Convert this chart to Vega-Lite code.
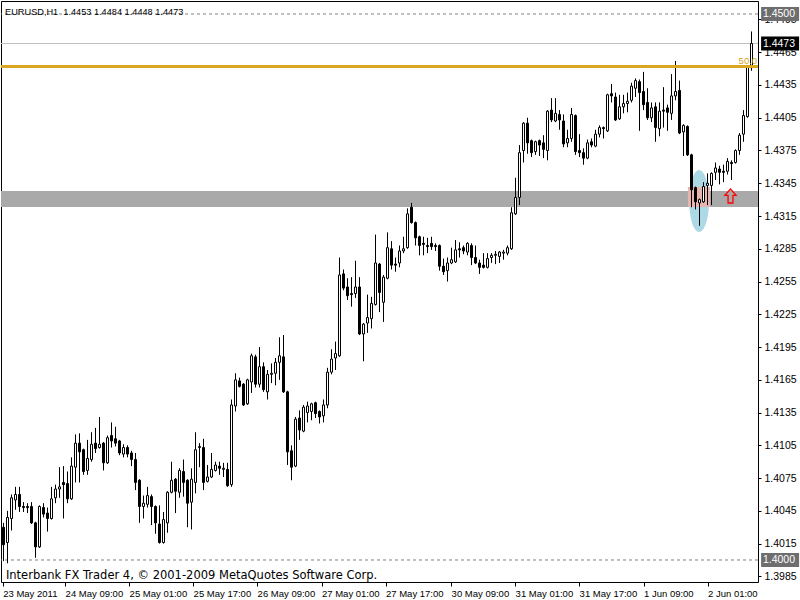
{
"$schema":"https://vega.github.io/schema/vega-lite/v6.json",
"width":757,"height":581,"autosize":"none",
"padding":{"left":1,"top":1,"right":42,"bottom":18},
"background":"white",
"config":{"view":{"stroke":"black","strokeWidth":1},"axis":{"grid":false}},
"resolve":{"axis":{"x":"independent","y":"independent"}},
"datasets":{
"candles":[
{"i":0,"o":1.4030,"h":1.4034,"l":1.3999,"c":1.4014},{"i":1,"o":1.4016,"h":1.4045,"l":1.3997,"c":1.4039},{"i":2,"o":1.4038,"h":1.4060,"l":1.4027,"c":1.4057},{"i":3,"o":1.4055,"h":1.4067,"l":1.4046,"c":1.4060},{"i":4,"o":1.4060,"h":1.4067,"l":1.4044,"c":1.4049},{"i":5,"o":1.4049,"h":1.4053,"l":1.4044,"c":1.4048},{"i":6,"o":1.4049,"h":1.4052,"l":1.4043,"c":1.4048},{"i":7,"o":1.4049,"h":1.4053,"l":1.4033,"c":1.4034},{"i":8,"o":1.4034,"h":1.4035,"l":1.4002,"c":1.4012},{"i":9,"o":1.4012,"h":1.4050,"l":1.4011,"c":1.4049},
{"i":10,"o":1.4048,"h":1.4052,"l":1.4039,"c":1.4042},{"i":11,"o":1.4043,"h":1.4048,"l":1.4026,"c":1.4038},{"i":12,"o":1.4038,"h":1.4067,"l":1.4037,"c":1.4056},{"i":13,"o":1.4057,"h":1.4069,"l":1.4052,"c":1.4065},{"i":14,"o":1.4065,"h":1.4085,"l":1.4057,"c":1.4067},{"i":15,"o":1.4071,"h":1.4086,"l":1.4038,"c":1.4069},{"i":16,"o":1.4070,"h":1.4081,"l":1.4052,"c":1.4056},{"i":17,"o":1.4056,"h":1.4094,"l":1.4055,"c":1.4086},{"i":18,"o":1.4085,"h":1.4115,"l":1.4071,"c":1.4107},{"i":19,"o":1.4107,"h":1.4116,"l":1.4071,"c":1.4099},
{"i":20,"o":1.4101,"h":1.4102,"l":1.4078,"c":1.4081},{"i":21,"o":1.4082,"h":1.4110,"l":1.4078,"c":1.4093},{"i":22,"o":1.4092,"h":1.4117,"l":1.4090,"c":1.4106},{"i":23,"o":1.4107,"h":1.4121,"l":1.4098,"c":1.4102},{"i":24,"o":1.4103,"h":1.4131,"l":1.4102,"c":1.4106},{"i":25,"o":1.4107,"h":1.4108,"l":1.4082,"c":1.4089},{"i":26,"o":1.4089,"h":1.4114,"l":1.4088,"c":1.4112},{"i":27,"o":1.4114,"h":1.4126,"l":1.4103,"c":1.4109},{"i":28,"o":1.4111,"h":1.4122,"l":1.4104,"c":1.4107},{"i":29,"o":1.4109,"h":1.4110,"l":1.4096,"c":1.4098},
{"i":30,"o":1.4097,"h":1.4106,"l":1.4094,"c":1.4103},{"i":31,"o":1.4103,"h":1.4105,"l":1.4094,"c":1.4097},{"i":32,"o":1.4098,"h":1.4100,"l":1.4086,"c":1.4092},{"i":33,"o":1.4092,"h":1.4098,"l":1.4064,"c":1.4071},{"i":34,"o":1.4073,"h":1.4074,"l":1.4034,"c":1.4049},{"i":35,"o":1.4049,"h":1.4059,"l":1.4038,"c":1.4052},{"i":36,"o":1.4051,"h":1.4067,"l":1.4048,"c":1.4059},{"i":37,"o":1.4058,"h":1.4060,"l":1.4032,"c":1.4049},{"i":38,"o":1.4049,"h":1.4050,"l":1.4024,"c":1.4034},{"i":39,"o":1.4033,"h":1.4050,"l":1.4015,"c":1.4016},
{"i":40,"o":1.4016,"h":1.4044,"l":1.4015,"c":1.4037},{"i":41,"o":1.4034,"h":1.4063,"l":1.4025,"c":1.4062},{"i":42,"o":1.4062,"h":1.4090,"l":1.4061,"c":1.4073},{"i":43,"o":1.4074,"h":1.4075,"l":1.4043,"c":1.4063},{"i":44,"o":1.4062,"h":1.4084,"l":1.4057,"c":1.4082},{"i":45,"o":1.4081,"h":1.4092,"l":1.4058,"c":1.4071},{"i":46,"o":1.4073,"h":1.4074,"l":1.4030,"c":1.4052},{"i":47,"o":1.4053,"h":1.4084,"l":1.4028,"c":1.4074},{"i":48,"o":1.4071,"h":1.4117,"l":1.4061,"c":1.4101},{"i":49,"o":1.4103,"h":1.4107,"l":1.4085,"c":1.4104},
{"i":50,"o":1.4103,"h":1.4111,"l":1.4064,"c":1.4071},{"i":51,"o":1.4072,"h":1.4087,"l":1.4071,"c":1.4076},{"i":52,"o":1.4076,"h":1.4098,"l":1.4075,"c":1.4083},{"i":53,"o":1.4082,"h":1.4090,"l":1.4081,"c":1.4087},{"i":54,"o":1.4086,"h":1.4090,"l":1.4078,"c":1.4084},{"i":55,"o":1.4083,"h":1.4089,"l":1.4076,"c":1.4084},{"i":56,"o":1.4083,"h":1.4089,"l":1.4067,"c":1.4068},{"i":57,"o":1.4069,"h":1.4147,"l":1.4067,"c":1.4142},{"i":58,"o":1.4141,"h":1.4171,"l":1.4136,"c":1.4165},{"i":59,"o":1.4164,"h":1.4167,"l":1.4158,"c":1.4159},
{"i":60,"o":1.4161,"h":1.4162,"l":1.4141,"c":1.4142},{"i":61,"o":1.4143,"h":1.4166,"l":1.4142,"c":1.4165},{"i":62,"o":1.4163,"h":1.4189,"l":1.4153,"c":1.4187},{"i":63,"o":1.4186,"h":1.4188,"l":1.4158,"c":1.4161},{"i":64,"o":1.4161,"h":1.4195,"l":1.4158,"c":1.4177},{"i":65,"o":1.4177,"h":1.4181,"l":1.4154,"c":1.4156},{"i":66,"o":1.4154,"h":1.4174,"l":1.4147,"c":1.4170},{"i":67,"o":1.4170,"h":1.4180,"l":1.4162,"c":1.4171},{"i":68,"o":1.4171,"h":1.4185,"l":1.4160,"c":1.4181},{"i":69,"o":1.4181,"h":1.4204,"l":1.4165,"c":1.4187},
{"i":70,"o":1.4186,"h":1.4206,"l":1.4153,"c":1.4154},{"i":71,"o":1.4154,"h":1.4155,"l":1.4087,"c":1.4099},{"i":72,"o":1.4100,"h":1.4105,"l":1.4073,"c":1.4085},{"i":73,"o":1.4086,"h":1.4131,"l":1.4085,"c":1.4129},{"i":74,"o":1.4130,"h":1.4137,"l":1.4110,"c":1.4119},{"i":75,"o":1.4118,"h":1.4142,"l":1.4117,"c":1.4140},{"i":76,"o":1.4135,"h":1.4145,"l":1.4126,"c":1.4141},{"i":77,"o":1.4136,"h":1.4144,"l":1.4128,"c":1.4143},{"i":78,"o":1.4144,"h":1.4145,"l":1.4130,"c":1.4134},{"i":79,"o":1.4136,"h":1.4137,"l":1.4125,"c":1.4131},
{"i":80,"o":1.4132,"h":1.4147,"l":1.4126,"c":1.4142},{"i":81,"o":1.4142,"h":1.4176,"l":1.4139,"c":1.4172},{"i":82,"o":1.4172,"h":1.4193,"l":1.4170,"c":1.4184},{"i":83,"o":1.4185,"h":1.4200,"l":1.4174,"c":1.4189},{"i":84,"o":1.4187,"h":1.4277,"l":1.4186,"c":1.4261},{"i":85,"o":1.4262,"h":1.4266,"l":1.4247,"c":1.4249},{"i":86,"o":1.4250,"h":1.4258,"l":1.4238,"c":1.4242},{"i":87,"o":1.4244,"h":1.4259,"l":1.4232,"c":1.4243},{"i":88,"o":1.4244,"h":1.4274,"l":1.4240,"c":1.4250},{"i":89,"o":1.4250,"h":1.4259,"l":1.4206,"c":1.4207},
{"i":90,"o":1.4207,"h":1.4217,"l":1.4182,"c":1.4216},{"i":91,"o":1.4217,"h":1.4243,"l":1.4208,"c":1.4222},{"i":92,"o":1.4221,"h":1.4241,"l":1.4212,"c":1.4235},{"i":93,"o":1.4234,"h":1.4298,"l":1.4233,"c":1.4272},{"i":94,"o":1.4271,"h":1.4272,"l":1.4227,"c":1.4245},{"i":95,"o":1.4236,"h":1.4261,"l":1.4218,"c":1.4259},{"i":96,"o":1.4258,"h":1.4300,"l":1.4257,"c":1.4286},{"i":97,"o":1.4285,"h":1.4292,"l":1.4266,"c":1.4270},{"i":98,"o":1.4271,"h":1.4277,"l":1.4264,"c":1.4270},{"i":99,"o":1.4272,"h":1.4288,"l":1.4268,"c":1.4283},
{"i":100,"o":1.4283,"h":1.4296,"l":1.4281,"c":1.4285},{"i":101,"o":1.4286,"h":1.4322,"l":1.4285,"c":1.4317},{"i":102,"o":1.4323,"h":1.4327,"l":1.4308,"c":1.4309},{"i":103,"o":1.4309,"h":1.4310,"l":1.4288,"c":1.4295},{"i":104,"o":1.4296,"h":1.4297,"l":1.4279,"c":1.4288},{"i":105,"o":1.4290,"h":1.4296,"l":1.4279,"c":1.4289},{"i":106,"o":1.4288,"h":1.4295,"l":1.4281,"c":1.4287},{"i":107,"o":1.4290,"h":1.4296,"l":1.4284,"c":1.4287},{"i":108,"o":1.4288,"h":1.4290,"l":1.4283,"c":1.4287},{"i":109,"o":1.4288,"h":1.4289,"l":1.4265,"c":1.4269},
{"i":110,"o":1.4269,"h":1.4276,"l":1.4261,"c":1.4264},{"i":111,"o":1.4265,"h":1.4277,"l":1.4255,"c":1.4272},{"i":112,"o":1.4272,"h":1.4286,"l":1.4271,"c":1.4275},{"i":113,"o":1.4273,"h":1.4293,"l":1.4272,"c":1.4284},{"i":114,"o":1.4285,"h":1.4291,"l":1.4277,"c":1.4284},{"i":115,"o":1.4286,"h":1.4288,"l":1.4280,"c":1.4283},{"i":116,"o":1.4282,"h":1.4291,"l":1.4279,"c":1.4290},{"i":117,"o":1.4288,"h":1.4290,"l":1.4270,"c":1.4277},{"i":118,"o":1.4277,"h":1.4288,"l":1.4271,"c":1.4272},{"i":119,"o":1.4272,"h":1.4275,"l":1.4262,"c":1.4268},
{"i":120,"o":1.4270,"h":1.4281,"l":1.4267,"c":1.4268},{"i":121,"o":1.4268,"h":1.4281,"l":1.4267,"c":1.4276},{"i":122,"o":1.4277,"h":1.4281,"l":1.4272,"c":1.4279},{"i":123,"o":1.4279,"h":1.4283,"l":1.4271,"c":1.4280},{"i":124,"o":1.4278,"h":1.4283,"l":1.4272,"c":1.4282},{"i":125,"o":1.4281,"h":1.4284,"l":1.4275,"c":1.4282},{"i":126,"o":1.4281,"h":1.4288,"l":1.4279,"c":1.4286},{"i":127,"o":1.4285,"h":1.4323,"l":1.4284,"c":1.4318},{"i":128,"o":1.4317,"h":1.4350,"l":1.4316,"c":1.4332},{"i":129,"o":1.4332,"h":1.4380,"l":1.4325,"c":1.4373},
{"i":130,"o":1.4375,"h":1.4401,"l":1.4364,"c":1.4400},{"i":131,"o":1.4400,"h":1.4405,"l":1.4372,"c":1.4382},{"i":132,"o":1.4384,"h":1.4385,"l":1.4369,"c":1.4373},{"i":133,"o":1.4374,"h":1.4384,"l":1.4371,"c":1.4383},{"i":134,"o":1.4384,"h":1.4385,"l":1.4370,"c":1.4380},{"i":135,"o":1.4382,"h":1.4389,"l":1.4368,"c":1.4376},{"i":136,"o":1.4375,"h":1.4412,"l":1.4366,"c":1.4411},{"i":137,"o":1.4412,"h":1.4423,"l":1.4401,"c":1.4403},{"i":138,"o":1.4402,"h":1.4423,"l":1.4401,"c":1.4409},{"i":139,"o":1.4408,"h":1.4412,"l":1.4394,"c":1.4403},
{"i":140,"o":1.4402,"h":1.4408,"l":1.4378,"c":1.4381},{"i":141,"o":1.4382,"h":1.4394,"l":1.4378,"c":1.4386},{"i":142,"o":1.4386,"h":1.4414,"l":1.4383,"c":1.4408},{"i":143,"o":1.4407,"h":1.4408,"l":1.4371,"c":1.4374},{"i":144,"o":1.4375,"h":1.4390,"l":1.4369,"c":1.4373},{"i":145,"o":1.4373,"h":1.4377,"l":1.4362,"c":1.4368},{"i":146,"o":1.4368,"h":1.4385,"l":1.4367,"c":1.4382},{"i":147,"o":1.4383,"h":1.4386,"l":1.4378,"c":1.4380},{"i":148,"o":1.4379,"h":1.4394,"l":1.4378,"c":1.4390},{"i":149,"o":1.4390,"h":1.4398,"l":1.4387,"c":1.4396},
{"i":150,"o":1.4396,"h":1.4397,"l":1.4386,"c":1.4395},{"i":151,"o":1.4393,"h":1.4427,"l":1.4392,"c":1.4426},{"i":152,"o":1.4427,"h":1.4436,"l":1.4419,"c":1.4425},{"i":153,"o":1.4424,"h":1.4428,"l":1.4402,"c":1.4403},{"i":154,"o":1.4404,"h":1.4426,"l":1.4403,"c":1.4415},{"i":155,"o":1.4415,"h":1.4426,"l":1.4409,"c":1.4418},{"i":156,"o":1.4418,"h":1.4428,"l":1.4410,"c":1.4420},{"i":157,"o":1.4421,"h":1.4437,"l":1.4419,"c":1.4434},{"i":158,"o":1.4432,"h":1.4441,"l":1.4424,"c":1.4439},{"i":159,"o":1.4438,"h":1.4440,"l":1.4393,"c":1.4428},
{"i":160,"o":1.4429,"h":1.4447,"l":1.4412,"c":1.4417},{"i":161,"o":1.4419,"h":1.4432,"l":1.4403,"c":1.4405},{"i":162,"o":1.4405,"h":1.4419,"l":1.4401,"c":1.4414},{"i":163,"o":1.4415,"h":1.4419,"l":1.4383,"c":1.4396},{"i":164,"o":1.4395,"h":1.4419,"l":1.4388,"c":1.4411},{"i":165,"o":1.4412,"h":1.4433,"l":1.4396,"c":1.4411},{"i":166,"o":1.4414,"h":1.4417,"l":1.4393,"c":1.4410},{"i":167,"o":1.4409,"h":1.4445,"l":1.4403,"c":1.4425},{"i":168,"o":1.4425,"h":1.4457,"l":1.4421,"c":1.4429},{"i":169,"o":1.4430,"h":1.4439,"l":1.4390,"c":1.4391},
{"i":170,"o":1.4392,"h":1.4399,"l":1.4370,"c":1.4398},{"i":171,"o":1.4397,"h":1.4398,"l":1.4370,"c":1.4371},{"i":172,"o":1.4371,"h":1.4372,"l":1.4323,"c":1.4339},{"i":173,"o":1.4341,"h":1.4342,"l":1.4321,"c":1.4328},{"i":174,"o":1.4327,"h":1.4331,"l":1.4306,"c":1.4330},{"i":175,"o":1.4328,"h":1.4346,"l":1.4327,"c":1.4342},{"i":176,"o":1.4343,"h":1.4354,"l":1.4325,"c":1.4345},{"i":177,"o":1.4343,"h":1.4355,"l":1.4325,"c":1.4354},{"i":178,"o":1.4355,"h":1.4364,"l":1.4348,"c":1.4359},{"i":179,"o":1.4358,"h":1.4361,"l":1.4344,"c":1.4355},
{"i":180,"o":1.4356,"h":1.4362,"l":1.4346,"c":1.4355},{"i":181,"o":1.4356,"h":1.4368,"l":1.4353,"c":1.4365},{"i":182,"o":1.4364,"h":1.4366,"l":1.4348,"c":1.4363},{"i":183,"o":1.4364,"h":1.4376,"l":1.4363,"c":1.4375},{"i":184,"o":1.4375,"h":1.4391,"l":1.4371,"c":1.4389},{"i":185,"o":1.4390,"h":1.4412,"l":1.4383,"c":1.4407},{"i":186,"o":1.4406,"h":1.4453,"l":1.4405,"c":1.4451},{"i":187,"o":1.4453,"h":1.4484,"l":1.4448,"c":1.4473}
],
"boxes":[{"price":1.45,"label":"1.4500"},{"price":1.4473,"label":"1.4473"},{"price":1.40,"label":"1.4000"}]
},
"layer":[
{"data":{"values":[{"p1":1.43233,"p2":1.43379,"t1":-0.625,"t2":188.625}]},
 "mark":{"type":"rect","color":"#A9A9A9"},
 "encoding":{"x":{"field":"t1","type":"quantitative","scale":{"domain":[-0.625,188.625],"nice":false,"zero":false,"padding":0},"axis":null},"x2":{"field":"t2"},
  "y":{"field":"p1","type":"quantitative","scale":{"domain":[1.397985,1.45119],"nice":false,"zero":false,"padding":0},"axis":null},"y2":{"field":"p2"}}},
{"data":{"values":[{"t":173.9,"p":1.432875}]},
 "mark":{"type":"point","shape":"M0,-1A0.32,1,0,1,1,0,1A0.32,1,0,1,1,0,-1Z","filled":true,"color":"#ADD8E6","opacity":1,"size":3844,"strokeWidth":0},
 "encoding":{"x":{"field":"t","type":"quantitative","scale":{"domain":[-0.625,188.625],"nice":false,"zero":false,"padding":0},"axis":null},
  "y":{"field":"p","type":"quantitative","scale":{"domain":[1.397985,1.45119],"nice":false,"zero":false,"padding":0},"axis":null}}},
{"data":{"values":[{"t1":171.1,"t2":176.6,"p1":1.43233,"p2":1.43416}]},
 "mark":{"type":"rect","color":"#E8B4B0"},
 "encoding":{"x":{"field":"t1","type":"quantitative","scale":{"domain":[-0.625,188.625],"nice":false,"zero":false,"padding":0},"axis":null},"x2":{"field":"t2"},
  "y":{"field":"p1","type":"quantitative","scale":{"domain":[1.397985,1.45119],"nice":false,"zero":false,"padding":0},"axis":null},"y2":{"field":"p2"}}},
{"data":{"values":[{"p":1.4473}]},
 "mark":{"type":"rule","color":"#C0C0C0","strokeWidth":1},
 "encoding":{"y":{"field":"p","type":"quantitative","scale":{"domain":[1.397985,1.45119],"nice":false,"zero":false,"padding":0},"axis":null}}},
{"data":{"values":[{"p":1.45},{"p":1.40}]},
 "mark":{"type":"rule","color":"#808080","strokeWidth":1,"strokeDash":[3,3]},
 "encoding":{"y":{"field":"p","type":"quantitative","scale":{"domain":[1.397985,1.45119],"nice":false,"zero":false,"padding":0},"axis":null}}},
{"data":{"name":"candles"},
 "mark":{"type":"rule","color":"black","strokeWidth":1},
 "encoding":{
  "x":{"field":"i","type":"quantitative","scale":{"domain":[-0.625,188.625],"nice":false,"zero":false,"padding":0},
   "axis":{"orient":"bottom","title":null,"domain":false,"grid":false,"values":[-0.2,15.4,31.4,47.4,63.4,79.5,95.5,111.9,127.9,143.9,160,176],
    "labelExpr":"['23 May 2011','24 May 09:00','25 May 01:00','25 May 17:00','26 May 09:00','27 May 01:00','27 May 17:00','30 May 09:00','31 May 01:00','31 May 17:00','1 Jun 09:00','2 Jun 01:00'][indexof([-0.2,15.4,31.4,47.4,63.4,79.5,95.5,111.9,127.9,143.9,160,176], datum.value)]",
    "labelAlign":"left","labelFlush":false,"labelOverlap":false,"labelBound":false,"tickSize":4,"tickColor":"black","labelColor":"black","labelFont":"Liberation Sans","labelFontSize":9.5,"labelPadding":2,"labelDx":1}},
  "y":{"field":"l","type":"quantitative","scale":{"domain":[1.397985,1.45119],"nice":false,"zero":false,"padding":0},
   "axis":{"orient":"right","title":null,"domain":false,"grid":false,"values":[1.3985,1.4015,1.4045,1.4075,1.4105,1.4135,1.4165,1.4195,1.4225,1.4255,1.4285,1.4315,1.4345,1.4375,1.4405,1.4435,1.4465,1.4495],
    "format":".4f","labelOverlap":false,"labelFlush":false,"labelBound":false,"tickSize":3,"tickColor":"black","labelColor":"black","labelFont":"Liberation Sans","labelFontSize":10.5,"labelPadding":3}},
  "y2":{"field":"h"}}},
{"data":{"name":"candles"},
 "mark":{"type":"bar","width":2,"stroke":"black","strokeWidth":1},
 "encoding":{
  "x":{"field":"i","type":"quantitative","scale":{"domain":[-0.625,188.625],"nice":false,"zero":false,"padding":0},"axis":null},
  "y":{"field":"o","type":"quantitative","scale":{"domain":[1.397985,1.45119],"nice":false,"zero":false,"padding":0},"axis":null},
  "y2":{"field":"c"},
  "fill":{"condition":{"test":"datum.c < datum.o","value":"black"},"value":"white"}}},
{"data":{"values":[{"p":1.4452}]},
 "mark":{"type":"rule","color":"#DAA520","strokeWidth":3},
 "encoding":{"y":{"field":"p","type":"quantitative","scale":{"domain":[1.397985,1.45119],"nice":false,"zero":false,"padding":0},"axis":null}}},
{"data":{"values":[{"t":188.4,"p":1.44542,"label":"50.0"}]},
 "mark":{"type":"text","color":"#DAA520","align":"right","baseline":"alphabetic","font":"Liberation Sans","fontSize":9.5},
 "encoding":{"x":{"field":"t","type":"quantitative","scale":{"domain":[-0.625,188.625],"nice":false,"zero":false,"padding":0},"axis":null},
  "y":{"field":"p","type":"quantitative","scale":{"domain":[1.397985,1.45119],"nice":false,"zero":false,"padding":0},"axis":null},
  "text":{"field":"label"}}},
{"data":{"values":[{"t":181.75,"p":1.433333}]},
 "mark":{"type":"point","shape":"M0,-1L0.8,-0.1L0.35,-0.1L0.35,1L-0.35,1L-0.35,-0.1L-0.8,-0.1Z","filled":false,"stroke":"red","strokeWidth":1.3,"opacity":1,"size":196},
 "encoding":{"x":{"field":"t","type":"quantitative","scale":{"domain":[-0.625,188.625],"nice":false,"zero":false,"padding":0},"axis":null},
  "y":{"field":"p","type":"quantitative","scale":{"domain":[1.397985,1.45119],"nice":false,"zero":false,"padding":0},"axis":null}}},
{"data":{"name":"boxes"},
 "mark":{"type":"rect","yOffset":-7,"y2Offset":7},
 "encoding":{"x":{"datum":189.4,"type":"quantitative","scale":{"domain":[-0.625,188.625],"nice":false,"zero":false,"padding":0},"axis":null},"x2":{"datum":198.9},
  "y":{"field":"price","type":"quantitative","scale":{"domain":[1.397985,1.45119],"nice":false,"zero":false,"padding":0},"axis":null},"y2":{"field":"price"},
  "fill":{"condition":{"test":"datum.label == '1.4473'","value":"black"},"value":"#6E6E6E"}}},
{"data":{"name":"boxes"},
 "mark":{"type":"text","color":"white","align":"left","baseline":"middle","font":"Liberation Sans","fontSize":10.5,"dy":0.5},
 "encoding":{"x":{"datum":189.85,"type":"quantitative","scale":{"domain":[-0.625,188.625],"nice":false,"zero":false,"padding":0},"axis":null},
  "y":{"field":"price","type":"quantitative","scale":{"domain":[1.397985,1.45119],"nice":false,"zero":false,"padding":0},"axis":null},
  "text":{"field":"label"}}},
{"data":{"values":[{"t":0.4,"p":1.449908,"label":"EURUSD,H1\u00a0\u00a01.4453 1.4484 1.4448 1.4473"}]},
 "mark":{"type":"text","color":"black","align":"left","baseline":"alphabetic","font":"Liberation Sans","fontSize":9.2},
 "encoding":{"x":{"field":"t","type":"quantitative","scale":{"domain":[-0.625,188.625],"nice":false,"zero":false,"padding":0},"axis":null},
  "y":{"field":"p","type":"quantitative","scale":{"domain":[1.397985,1.45119],"nice":false,"zero":false,"padding":0},"axis":null},
  "text":{"field":"label"}}},
{"data":{"values":[{"t":0.6,"p":1.39826,"label":"Interbank FX Trader 4, © 2001-2009 MetaQuotes Software Corp."}]},
 "mark":{"type":"text","color":"black","align":"left","baseline":"alphabetic","font":"DejaVu Sans","fontSize":11.5},
 "encoding":{"x":{"field":"t","type":"quantitative","scale":{"domain":[-0.625,188.625],"nice":false,"zero":false,"padding":0},"axis":null},
  "y":{"field":"p","type":"quantitative","scale":{"domain":[1.397985,1.45119],"nice":false,"zero":false,"padding":0},"axis":null},
  "text":{"field":"label"}}}
]
}
